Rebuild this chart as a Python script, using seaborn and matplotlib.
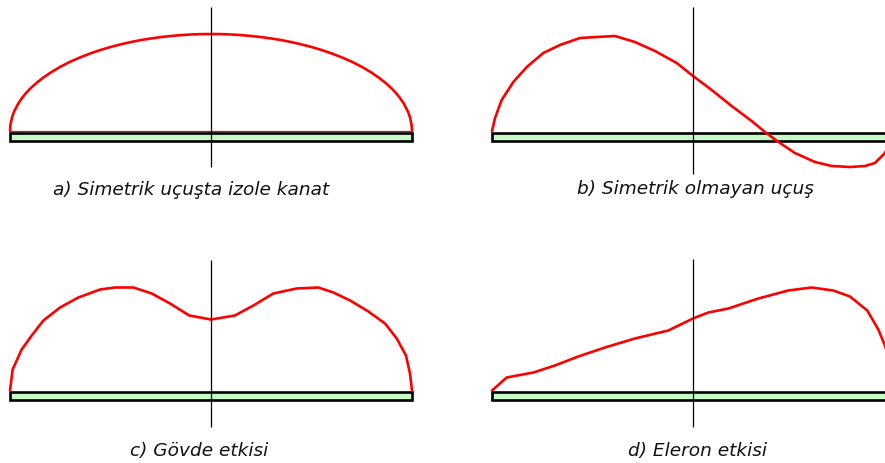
import matplotlib
matplotlib.use("Agg")
import matplotlib.pyplot as plt
from matplotlib.patches import Rectangle
import pandas as pd
import seaborn as sns

# Spanwise lift distributions; span is normalised (-1 = left tip, 1 = right tip)
SPAN_A = [-1.0, -0.998, -0.99, -0.98, -0.96, -0.94, -0.92, -0.9, -0.87, -0.84, -0.8, -0.75,
          -0.7, -0.65, -0.6, -0.55, -0.5, -0.45, -0.4, -0.35, -0.3, -0.25, -0.2, -0.15, -0.1,
          -0.05, 0.0, 0.05, 0.1, 0.15, 0.2, 0.25, 0.3, 0.35, 0.4, 0.45, 0.5, 0.55, 0.6, 0.65,
          0.7, 0.75, 0.8, 0.84, 0.87, 0.9, 0.92, 0.94, 0.96, 0.98, 0.99, 0.998, 1.0]
LIFT_A = [0.0, 0.061, 0.137, 0.193, 0.272, 0.331, 0.380, 0.423, 0.478, 0.526, 0.582, 0.642,
          0.693, 0.737, 0.776, 0.810, 0.840, 0.866, 0.889, 0.909, 0.925, 0.939, 0.950, 0.959,
          0.965, 0.969, 0.970, 0.969, 0.965, 0.959, 0.950, 0.939, 0.925, 0.909, 0.889, 0.866,
          0.840, 0.810, 0.776, 0.737, 0.693, 0.642, 0.582, 0.526, 0.478, 0.423, 0.380, 0.331,
          0.272, 0.193, 0.137, 0.061, 0.0]

SPAN_B = [-1.0, -0.985, -0.952, -0.894, -0.827, -0.745, -0.662, -0.562, -0.479, -0.388, -0.289,
          -0.189, -0.081, 0.0, 0.093, 0.192, 0.292, 0.358, 0.425, 0.507, 0.607, 0.69, 0.781,
          0.856, 0.905, 0.955, 0.985, 1.0]
LIFT_B = [0.0, 0.13, 0.31, 0.49, 0.64, 0.78, 0.86, 0.93, 0.94, 0.95, 0.89,
          0.80, 0.68, 0.55, 0.41, 0.25, 0.10, -0.01, -0.11, -0.22, -0.31, -0.35, -0.36,
          -0.35, -0.32, -0.22, -0.10, 0.0]

SPAN_C = [-1.0, -0.987, -0.942, -0.892, -0.834, -0.751, -0.66, -0.552, -0.478, -0.386, -0.295,
          -0.204, -0.108, 0.0, 0.119, 0.211, 0.31, 0.426, 0.534, 0.609, 0.692, 0.783, 0.866,
          0.924, 0.97, 0.99, 1.0]
LIFT_C = [0.0, 0.21, 0.41, 0.55, 0.70, 0.83, 0.93, 1.01, 1.03, 1.03, 0.97,
          0.87, 0.75, 0.71, 0.75, 0.85, 0.97, 1.02, 1.03, 0.98, 0.90, 0.79, 0.67,
          0.52, 0.35, 0.17, 0.0]

SPAN_D = [-1.0, -0.927, -0.794, -0.687, -0.571, -0.438, -0.289, -0.123, 0.0, 0.076, 0.176,
          0.325, 0.474, 0.59, 0.698, 0.781, 0.867, 0.922, 0.955, 0.985, 1.0]
LIFT_D = [0.0, 0.13, 0.18, 0.25, 0.34, 0.43, 0.52, 0.60, 0.72, 0.78, 0.82,
          0.92, 1.00, 1.03, 1.00, 0.94, 0.80, 0.61, 0.45, 0.25, 0.0]

CAPTIONS = ["a) Simetrik uçuşta izole kanat", "b) Simetrik olmayan uçuş",
            "c) Gövde etkisi", "d) Eleron etkisi"]

WING_SPAN = [-1.0, 1.0]

W, H = 885, 463
sns.set_style("white")
plt.rcParams["font.family"] = ["DejaVu Sans"]

fig = plt.figure(figsize=(W / 100, H / 100), dpi=100)

X_LIM = (-1.0498, 1.1493)
# panel layout: left/top in pixels, y-limits, centre-line extent, caption anchor
panels = [
    dict(left=0,   top=0,   ylim=(-1.00, 1.31),   vline=(-0.36, 1.24), cap=(-0.10, -0.64)),
    dict(left=482, top=0,   ylim=(-1.00, 1.31),   vline=(-0.43, 1.24), cap=(0.01, -0.63)),
    dict(left=0,   top=232, ylim=(-0.725, 1.585), vline=(-0.36, 1.31), cap=(-0.06, -0.655)),
    dict(left=482, top=232, ylim=(-0.725, 1.585), vline=(-0.36, 1.32), cap=(0.02, -0.655)),
]
curves = [(SPAN_A, LIFT_A), (SPAN_B, LIFT_B), (SPAN_C, LIFT_C), (SPAN_D, LIFT_D)]

for i, (p, (span, lift), cap) in enumerate(zip(panels, curves, CAPTIONS)):
    ax = fig.add_axes([p["left"] / W, (H - p["top"] - 231) / H, 442 / W, 231 / H])
    ax.set_xlim(*X_LIM)
    ax.set_ylim(*p["ylim"])
    ax.axis("off")

    # wing planform
    ax.add_patch(Rectangle((WING_SPAN[0], -0.095), WING_SPAN[1] - WING_SPAN[0], 0.08,
                           facecolor="#c8f8c8", edgecolor="black", linewidth=1.9,
                           zorder=2, clip_on=False))
    if i == 0:
        # closing chord line of the elliptic distribution
        ax.plot(WING_SPAN, [0.004, 0.004], color="red", linewidth=0.9, zorder=1)

    df = pd.DataFrame({"span": span, "lift": lift})
    sns.lineplot(data=df, x="span", y="lift", sort=False, estimator=None,
                 color="red", linewidth=1.9, ax=ax, zorder=3)
    for ln in ax.lines:
        ln.set_solid_joinstyle("round")
        ln.set_solid_capstyle("round")
    ax.set_xlabel("")
    ax.set_ylabel("")

    # symmetry plane
    ax.vlines(0, *p["vline"], color="black", linewidth=0.9, zorder=4)

    ax.text(p["cap"][0], p["cap"][1], cap, ha="center", va="baseline",
            fontsize=13.3, style="italic", color="#111111")

fig.savefig("out.png", dpi=100)
